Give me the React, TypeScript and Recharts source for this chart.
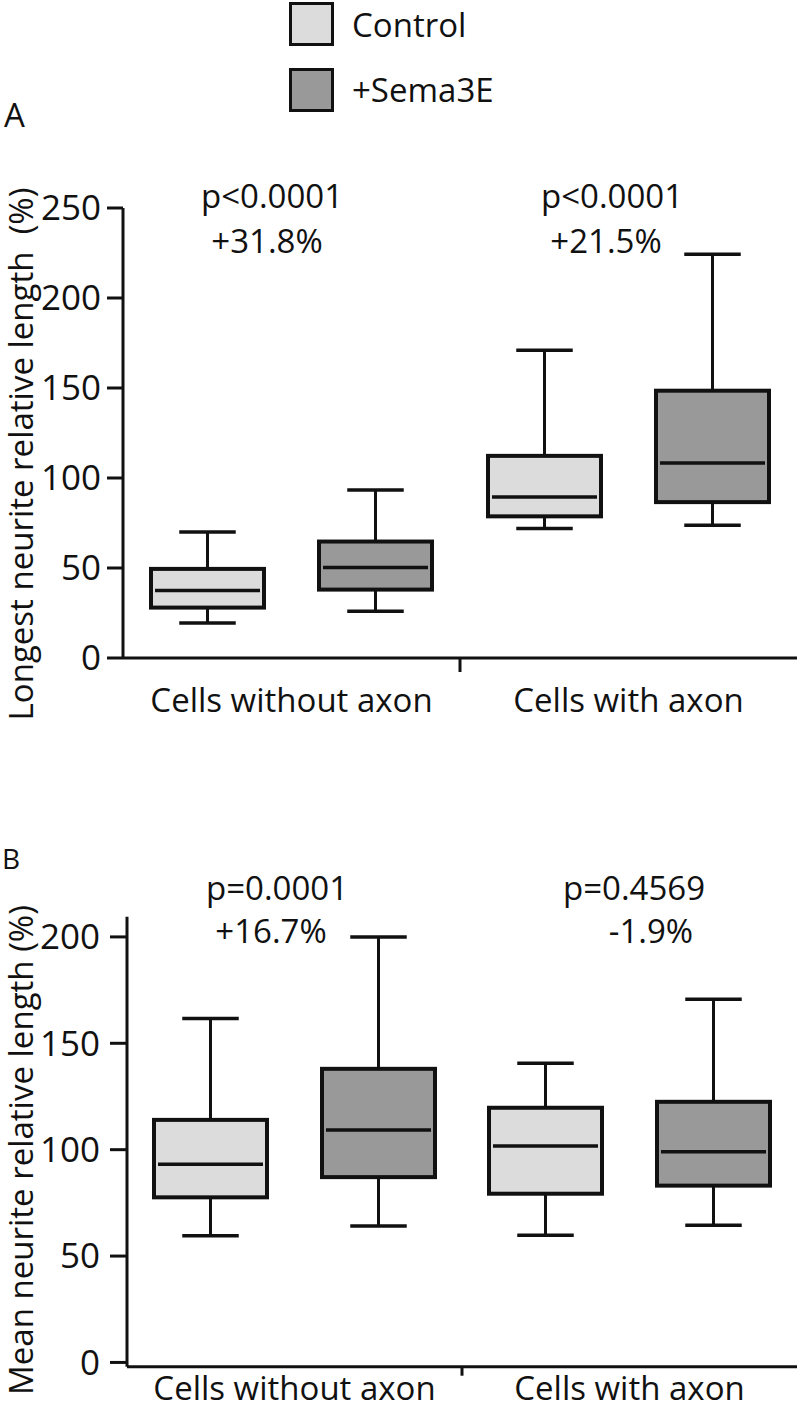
import React from 'react';
import { BarChart, Bar, XAxis, YAxis } from 'recharts';

// box stats: [min, q1, median, q3, max]
const categories = ['Cells without axon', 'Cells with axon'];
const longestControl = [[19.5, 28, 37.5, 49.5, 70], [72, 78.7, 89.4, 112.3, 171]];
const longestSema = [[26, 38, 50.3, 64.7, 93.3], [73.8, 86.6, 108.3, 148.5, 224.3]];
const meanControl = [[59.6, 77.6, 93.2, 114, 161.6], [59.8, 79.3, 101.7, 119.7, 140.6]];
const meanSema = [[64.1, 87.1, 109.2, 138, 200], [64.5, 83.1, 99, 122.5, 170.7]];
const ticksA = [0, 50, 100, 150, 200, 250];
const ticksB = [0, 50, 100, 150, 200];
const notesA = [['p<0.0001', '+31.8%'], ['p<0.0001', '+21.5%']];
const notesB = [['p=0.0001', '+16.7%'], ['p=0.4569', '-1.9%']];
const seriesNames = ['Control', '+Sema3E'];

const INK = '#111';
const FONT = "'Open Sans', sans-serif";
const CONTROL_FILL = '#dcdcdc';
const SEMA_FILL = '#999999';

const buildRows = (ctrl: number[][], sema: number[][]) =>
  categories.map((c, i) => ({
    category: c,
    controlBox: [ctrl[i][1], ctrl[i][3]],
    semaBox: [sema[i][1], sema[i][3]],
    control: ctrl[i],
    sema: sema[i],
  }));

const rowsA = buildRows(longestControl, longestSema);
const rowsB = buildRows(meanControl, meanSema);

function BoxShape(props: any) {
  const { x, y, width, height, payload, fill, statsKey } = props;
  const [lo, q1, med, q3, hi] = payload[statsKey];
  const top = Math.min(y, y + height);
  const h = Math.abs(height);
  const ppu = h / (q3 - q1);
  const py = (v: number) => top + (q3 - v) * ppu;
  const cx = x + width / 2;
  const cap = width / 4;
  return (
    <g>
      <line x1={cx} x2={cx} y1={py(hi)} y2={top} stroke={INK} strokeWidth={3} />
      <line x1={cx} x2={cx} y1={top + h} y2={py(lo)} stroke={INK} strokeWidth={3} />
      <line x1={cx - cap} x2={cx + cap} y1={py(hi)} y2={py(hi)} stroke={INK} strokeWidth={3.5} />
      <line x1={cx - cap} x2={cx + cap} y1={py(lo)} y2={py(lo)} stroke={INK} strokeWidth={3.5} />
      <rect x={x} y={top} width={width} height={h} fill={fill} stroke={INK} strokeWidth={4} />
      <line x1={x + 4} x2={x + width - 4} y1={py(med)} y2={py(med)} stroke={INK} strokeWidth={3.5} />
    </g>
  );
}

// category label + a divider tick between the two groups
const makeTick = (tickLen: number, labelOffset: number) => (props: any) => {
  const { x, y, payload, index, width } = props;
  const half = payload.offset ?? width / (2 * categories.length);
  return (
    <g>
      {index === 0 && (
        <line x1={x + half} x2={x + half} y1={y} y2={y + tickLen} stroke={INK} strokeWidth={3} />
      )}
      <text x={x} y={y + labelOffset} dy="0.35em" textAnchor="middle" fontSize={33} fontFamily={FONT} fill={INK}>
        {payload.value}
      </text>
    </g>
  );
};

function Panel({ rows, ticks, domain, top, height, margin, yWidth, tickSize, tickMargin, axisHeight, tickLen, labelOffset }: any) {
  return (
    <div style={{ position: 'absolute', left: 0, top }}>
      <BarChart width={800} height={height} data={rows} margin={margin} barSize={113} barGap={55}>
        <XAxis
          dataKey="category"
          height={axisHeight}
          axisLine={{ stroke: INK, strokeWidth: 3 }}
          tickLine={false}
          tickSize={0}
          tickMargin={0}
          tick={makeTick(tickLen, labelOffset)}
          interval={0}
        />
        <YAxis
          width={yWidth}
          type="number"
          domain={domain}
          ticks={ticks}
          allowDataOverflow
          axisLine={{ stroke: INK, strokeWidth: 3 }}
          tickLine={{ stroke: INK, strokeWidth: 3 }}
          tickSize={tickSize}
          tickMargin={tickMargin}
          tick={{ fontSize: 35, fontFamily: FONT, fill: INK }}
          interval={0}
        />
        <Bar dataKey="controlBox" fill={CONTROL_FILL} isAnimationActive={false}
          shape={(p: any) => <BoxShape {...p} statsKey="control" />} />
        <Bar dataKey="semaBox" fill={SEMA_FILL} isAnimationActive={false}
          shape={(p: any) => <BoxShape {...p} statsKey="sema" />} />
      </BarChart>
    </div>
  );
}

const textStyle: React.CSSProperties = { position: 'absolute', fontFamily: FONT, color: INK, whiteSpace: 'pre' };

function Note({ lines, cx, y }: { lines: string[]; cx: number[]; y: number[] }) {
  return (
    <>
      {lines.map((l, i) => (
        <div key={i} style={{ ...textStyle, left: cx[i], top: y[i], fontSize: 33, lineHeight: '40px', transform: 'translate(-50%, -50%)' }}>{l}</div>
      ))}
    </>
  );
}

// vertical title, reads bottom to top
function AxisTitle({ text, cx, cy }: { text: string; cx: number; cy: number }) {
  return (
    <div style={{ ...textStyle, left: cx, top: cy, fontSize: 33, lineHeight: '40px', writingMode: 'vertical-rl', transform: 'translate(-50%, -50%) rotate(180deg)' }}>{text}</div>
  );
}

export default function App() {
  return (
    <div style={{ position: 'absolute', left: 0, top: 0, width: 800, height: 1424, background: '#fff', overflow: 'hidden' }}>
      {/* legend */}
      {seriesNames.map((n, i) => (
        <React.Fragment key={n}>
          <div style={{ position: 'absolute', left: 289, top: 2 + i * 66, width: 39, height: 38, border: `3px solid ${INK}`, background: i === 0 ? CONTROL_FILL : SEMA_FILL }} />
          <div style={{ ...textStyle, left: 352, top: 25 + i * 65, fontSize: 33, lineHeight: '40px', transform: 'translateY(-50%)' }}>{n}</div>
        </React.Fragment>
      ))}

      <div style={{ ...textStyle, left: 4, top: 115, fontSize: 33, lineHeight: '40px', transform: 'translateY(-50%)' }}>A</div>
      <Panel rows={rowsA} ticks={ticksA} domain={[0, 250]} top={0} height={760}
        margin={{ top: 208, right: 3, bottom: 42, left: 0 }} yWidth={123}
        tickSize={16} tickMargin={6} axisHeight={60} tickLen={14} labelOffset={42} />
      <AxisTitle text="Longest neurite relative length  (%)" cx={21} cy={454} />
      {notesA.map((n, i) => (
        <Note key={i} lines={n} cx={i === 0 ? [272, 267] : [612, 606]} y={[196, 241]} />
      ))}

      <div style={{ ...textStyle, left: 2, top: 858, fontSize: 28, lineHeight: '34px', transform: 'translateY(-50%)' }}>B</div>
      <Panel rows={rowsB} ticks={ticksB} domain={[-2, 209.5]} top={800} height={624}
        margin={{ top: 116.7, right: 3, bottom: 17.3, left: 0 }} yWidth={127}
        tickSize={17} tickMargin={10} axisHeight={40} tickLen={9} labelOffset={22} />
      <AxisTitle text="Mean neurite relative length (%)" cx={21} cy={1150} />
      {notesB.map((n, i) => (
        <Note key={i} lines={n} cx={i === 0 ? [277, 271] : [634, 651]} y={[888, 931]} />
      ))}
    </div>
  );
}
